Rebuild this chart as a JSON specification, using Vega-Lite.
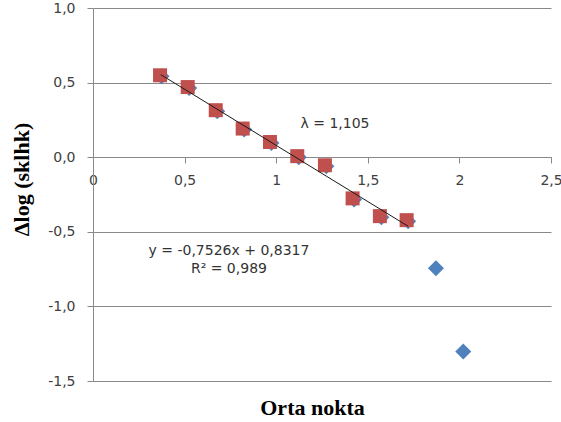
{
  "$schema": "https://vega.github.io/schema/vega-lite/v6.json",
  "width": 458,
  "height": 373,
  "autosize": {"type": "none"},
  "padding": {"left": 93, "top": 8, "right": 10, "bottom": 41},
  "background": "white",
  "config": {
    "view": {"stroke": null},
    "locale": {"number": {"decimal": ",", "thousands": ".", "grouping": [3], "currency": ["", " €"], "minus": "-"}}
  },
  "datasets": {
    "blue": [
      {"x": 0.374, "y": 0.542},
      {"x": 0.525, "y": 0.463},
      {"x": 0.678, "y": 0.308},
      {"x": 0.825, "y": 0.185},
      {"x": 0.974, "y": 0.095},
      {"x": 1.123, "y": 0.0},
      {"x": 1.274, "y": -0.061},
      {"x": 1.425, "y": -0.283},
      {"x": 1.574, "y": -0.402},
      {"x": 1.720, "y": -0.429},
      {"x": 1.872, "y": -0.745},
      {"x": 2.021, "y": -1.303}
    ],
    "red": [
      {"x": 0.366, "y": 0.549},
      {"x": 0.517, "y": 0.470},
      {"x": 0.670, "y": 0.315},
      {"x": 0.817, "y": 0.192},
      {"x": 0.966, "y": 0.102},
      {"x": 1.115, "y": 0.007},
      {"x": 1.266, "y": -0.054},
      {"x": 1.417, "y": -0.276},
      {"x": 1.566, "y": -0.395},
      {"x": 1.712, "y": -0.422}
    ],
    "trend": [
      {"x": 0.37, "y": 0.5532},
      {"x": 1.72, "y": -0.4628}
    ],
    "notes": [
      {"x": 1.321, "y": 0.221, "label": "λ = 1,105"},
      {"x": 0.742, "y": -0.630, "label": "y = -0,7526x + 0,8317"},
      {"x": 0.742, "y": -0.746, "label": "R² = 0,989"}
    ]
  },
  "layer": [
    {
      "data": {"name": "blue"},
      "mark": {"type": "point", "shape": "diamond", "filled": true, "size": 256, "color": "#4F81BD", "opacity": 1},
      "encoding": {
        "x": {
          "field": "x", "type": "quantitative",
          "scale": {"domain": [0, 2.5], "nice": false, "zero": false},
          "axis": {
            "values": [0, 0.5, 1, 1.5, 2, 2.5], "format": "~g", "offset": -224, "grid": false,
            "domainColor": "#898989", "tickColor": "#898989", "tickSize": 6,
            "labelPadding": 10, "labelFontSize": 14, "labelFont": "DejaVu Sans", "labelColor": "#404040",
            "labelFlush": false, "labelOverlap": false,
            "title": "Orta nokta", "titleFont": "Liberation Serif", "titleFontSize": 22, "titleFontWeight": "bold",
            "titleColor": "#000000", "titleX": 219, "titleY": 250, "titleBaseline": "middle", "titleAlign": "center"
          }
        },
        "y": {
          "field": "y", "type": "quantitative",
          "scale": {"domain": [-1.5, 1], "nice": false, "zero": false},
          "axis": {
            "values": [-1.5, -1, -0.5, 0, 0.5, 1], "format": ".1f", "grid": true,
            "gridColor": "#898989", "domainColor": "#898989", "tickColor": "#898989", "tickSize": 6,
            "labelPadding": 12, "labelFontSize": 14, "labelFont": "DejaVu Sans", "labelColor": "#404040",
            "labelFlush": false, "labelOverlap": false,
            "title": "Δlog (sklhk)", "titleFont": "Liberation Serif", "titleFontSize": 22, "titleFontWeight": "bold",
            "titleColor": "#000000", "titleX": -72, "titleY": 171, "titleBaseline": "middle", "titleAlign": "center", "titleAngle": -90
          }
        }
      }
    },
    {
      "data": {"name": "red"},
      "mark": {"type": "point", "shape": "square", "filled": true, "size": 196, "color": "#C0504D", "opacity": 1},
      "encoding": {
        "x": {"field": "x", "type": "quantitative"},
        "y": {"field": "y", "type": "quantitative"}
      }
    },
    {
      "data": {"name": "trend"},
      "mark": {"type": "line", "color": "#1a1a1a", "strokeWidth": 1},
      "encoding": {
        "x": {"field": "x", "type": "quantitative"},
        "y": {"field": "y", "type": "quantitative"}
      }
    },
    {
      "data": {"name": "notes"},
      "mark": {"type": "text", "font": "DejaVu Sans", "fontSize": 14, "color": "#333333", "align": "center", "baseline": "middle"},
      "encoding": {
        "x": {"field": "x", "type": "quantitative"},
        "y": {"field": "y", "type": "quantitative"},
        "text": {"field": "label"}
      }
    }
  ]
}
